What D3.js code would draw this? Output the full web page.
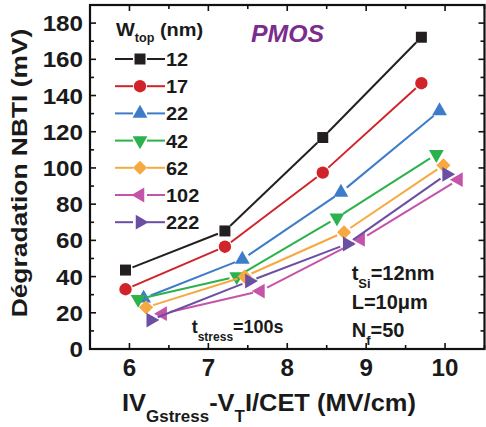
<!DOCTYPE html>
<html><head><meta charset="utf-8">
<script src="https://cdn.jsdelivr.net/npm/d3@7"></script>
<style>
html,body{margin:0;padding:0;background:#fff;}
svg{display:block;font-family:"Liberation Sans",Arial,sans-serif;font-weight:bold;}
</style></head>
<body>
<svg id="c" width="486" height="427"></svg>
<script>
// ---- data ----
const seriesNames = ["12","17","22","42","62","102","222"];
const x12 = [5.95, 7.21, 8.45, 9.70],  y12 = [43.6, 65.2, 116.8, 172.2];
const x17 = [5.95, 7.21, 8.45, 9.70],  y17 = [33.0, 56.5, 97.4, 146.8];
const x22 = [6.18, 7.43, 8.68, 9.93],  y22 = [28.0, 49.5, 86.5, 131.5];
const x42 = [6.11, 7.36, 8.63, 9.89],  y42 = [27.5, 40.0, 72.5, 107.5];
const x62 = [6.21, 7.46, 8.72, 9.98],  y62 = [23.0, 40.0, 64.5, 101.5];
const x102 = [6.42, 7.66, 8.93, 10.17], y102 = [19.5, 32.0, 60.5, 93.5];
const x222 = [6.27, 7.52, 8.76, 10.02], y222 = [16.0, 37.5, 58.0, 96.5];
const xTicks = [6, 7, 8, 9, 10];
const yTicks = [0, 20, 40, 60, 80, 100, 120, 140, 160, 180];

const colors = ["#231f20","#d0232a","#3d7cc9","#2bb24c","#f5a940","#c653aa","#6b4fa3"];
const shapes = ["square","circle","up","down","diamond","left","right"];
const X = [x12,x17,x22,x42,x62,x102,x222];
const Y = [y12,y17,y22,y42,y62,y102,y222];

const svg = d3.select("#c");
const L = 90, R = 484.5, T = 5, B = 349;
const x = d3.scaleLinear().domain([5.5, 10.5]).range([L, R]);
const y = d3.scaleLinear().domain([0, 190]).range([B, T]);

function symPath(shape){
  if (shape === "square") return {d: d3.symbol(d3.symbolSquare, 121)(), rot: 0};
  if (shape === "circle") return {d: d3.symbol(d3.symbolCircle, 120)(), rot: 0};
  if (shape === "diamond") return {d: d3.symbol(d3.symbolSquare, 100)(), rot: 45};
  const tri = d3.symbol(d3.symbolTriangle, 95)();
  const rot = {up:0, down:180, left:-90, right:90}[shape];
  return {d: tri, rot};
}
function drawMarker(g, px, py, shape, color){
  const s = symPath(shape);
  g.append("path").attr("d", s.d)
    .attr("transform", `translate(${px},${py}) rotate(${s.rot})`)
    .attr("fill", color).attr("stroke", "none");
}

// ---- frame ticks ----
const ax = svg.append("g").attr("stroke","#111").attr("fill","none");
const minorX = d3.range(5.5, 10.51, 0.5);
minorX.forEach(v=>{
  const major = Math.abs(v - Math.round(v)) < 1e-6;
  const len = major ? 6 : 4;
  ax.append("line").attr("x1",x(v)).attr("x2",x(v)).attr("y1",B).attr("y2",B-len).attr("stroke-width",1.6);
  ax.append("line").attr("x1",x(v)).attr("x2",x(v)).attr("y1",T).attr("y2",T+len).attr("stroke-width",1.6);
});
d3.range(0, 190.1, 10).forEach(v=>{
  const major = v % 20 === 0;
  const len = major ? 6 : 4;
  ax.append("line").attr("x1",L).attr("x2",L+len).attr("y1",y(v)).attr("y2",y(v)).attr("stroke-width",1.6);
  ax.append("line").attr("x1",R).attr("x2",R-len).attr("y1",y(v)).attr("y2",y(v)).attr("stroke-width",1.6);
});
ax.append("rect").attr("x",L).attr("y",T).attr("width",R-L).attr("height",B-T).attr("stroke-width",2.2);

// tick labels
function stretched(parent, px, py, sx, anchor, size, txt){
  const g = parent.append("g").attr("transform",`translate(${px},${py}) scale(${sx},1)`);
  return g.append("text").attr("text-anchor",anchor).attr("font-size",size).attr("fill","#1a1a1a").text(txt);
}
xTicks.forEach(v=> stretched(svg, x(v), 376, 1.05, "middle", 23, v));
yTicks.forEach(v=> stretched(svg, 83, y(v)+8, 1.1, "end", 22, v));

// axis titles
svg.append("g").attr("transform","translate(27,173) rotate(-90) scale(1.2,1)")
  .append("text").attr("text-anchor","middle").attr("font-size",22).attr("fill","#1a1a1a")
  .text("Dégradation NBTI (mV)");

const xtg = svg.append("g").attr("transform","translate(122,411) scale(1.06,1)");
const xt = xtg.append("text").attr("font-size",24).attr("fill","#1a1a1a");
xt.append("tspan").text("IV");
xt.append("tspan").attr("font-size",16).attr("dy",11).text("Gstress");
xt.append("tspan").attr("dy",-11).text("-V");
xt.append("tspan").attr("font-size",16).attr("dy",11).text("T");
xt.append("tspan").attr("dy",-11).text("I/CET (MV/cm)");

// ---- series ----
const gap = 7.5;
X.forEach((xs, i)=>{
  const g = svg.append("g");
  const pts = xs.map((v,j)=>[x(v), y(Y[i][j])]);
  for (let j=0;j<pts.length-1;j++){
    const [x1,y1] = pts[j], [x2,y2] = pts[j+1];
    const dx = x2-x1, dy = y2-y1, len = Math.hypot(dx,dy);
    const ux = dx/len, uy = dy/len;
    g.append("line").attr("x1",x1+ux*gap).attr("y1",y1+uy*gap)
      .attr("x2",x2-ux*gap).attr("y2",y2-uy*gap)
      .attr("stroke",colors[i]).attr("stroke-width",2);
  }
  pts.forEach(p=>drawMarker(g, p[0], p[1], shapes[i], colors[i]));
});

// ---- legend ----
const lg = svg.append("g");
const lt = lg.append("g").attr("transform","translate(116,36) scale(1.05,1)").append("text").attr("font-size",19).attr("fill","#1a1a1a");
lt.append("tspan").text("W");
lt.append("tspan").attr("font-size",12).attr("dy",6).text("top");
lt.append("tspan").attr("dy",-6).text(" (nm)");
seriesNames.forEach((nm,i)=>{
  const cy = 59 + i*27.2;
  lg.append("line").attr("x1",115).attr("x2",133).attr("y1",cy).attr("y2",cy).attr("stroke",colors[i]).attr("stroke-width",2);
  lg.append("line").attr("x1",147).attr("x2",165).attr("y1",cy).attr("y2",cy).attr("stroke",colors[i]).attr("stroke-width",2);
  drawMarker(lg, 140, cy, shapes[i], colors[i]);
  stretched(lg, 166, cy+7, 1.05, "start", 19, nm);
});

// PMOS
svg.append("g").attr("transform","translate(251,41.5) scale(1.08,1)").append("text")
  .attr("font-size",23).attr("font-style","italic").attr("fill","#7b2d8e").text("PMOS");

// annotations: parts = [text, isSub]
function subText(px, py, size, subSize, shift, parts){
  const t = svg.append("g").attr("transform",`translate(${px},${py})`).append("text").attr("font-size",size).attr("fill","#1a1a1a");
  let prevSub = false;
  parts.forEach(p=>{
    const ts = t.append("tspan").text(p[0]);
    if (p[1]) { ts.attr("font-size",subSize).attr("dy",shift); prevSub = true; }
    else if (prevSub) { ts.attr("dy",-shift); prevSub = false; }
  });
}
subText(351.7, 280, 20, 13, 8, [["t",0],["Si",1],["=12nm",0]]);
subText(351.7, 309, 20, 13, 8, [["L=10μm",0]]);
subText(351.7, 337, 20, 13, 8, [["N",0],["f",1],["=50",0]]);
subText(191.7, 333, 18, 12, 8, [["t",0],["stress",1],["=100s",0]]);
</script>
</body></html>
